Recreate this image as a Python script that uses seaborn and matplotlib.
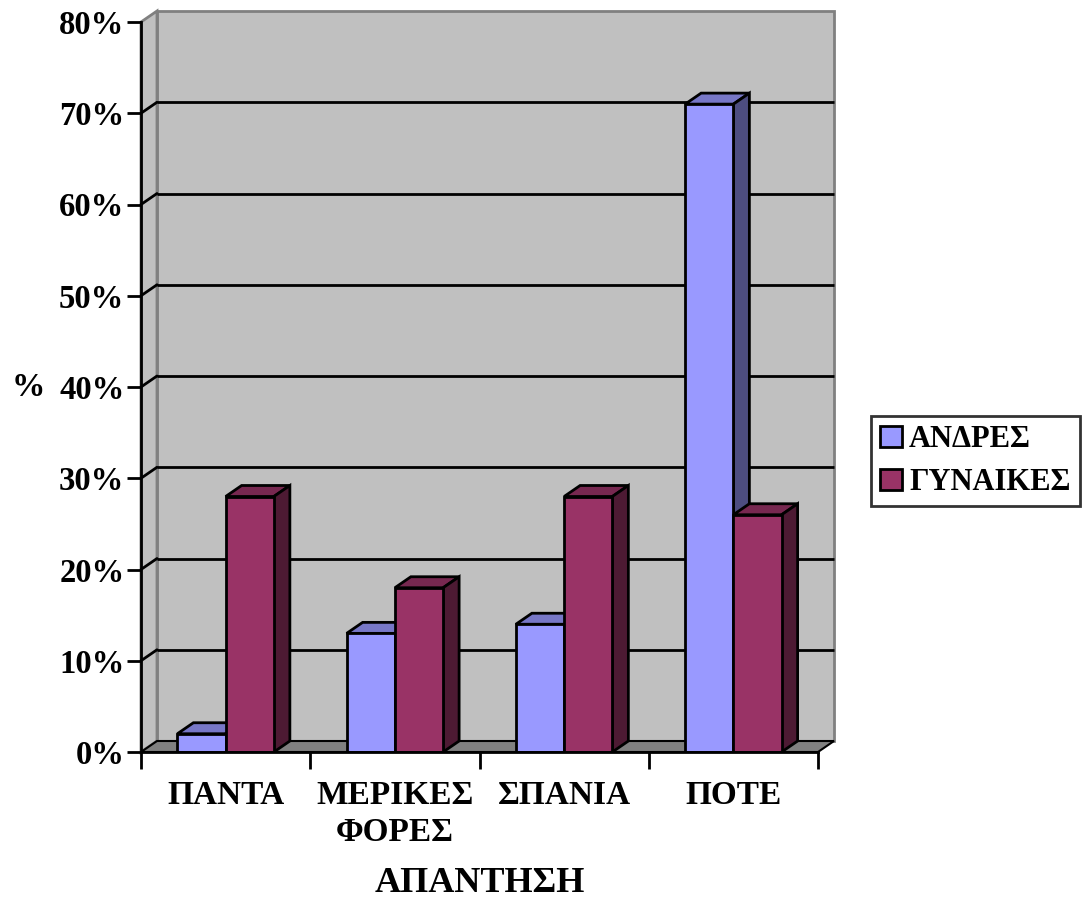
import matplotlib
matplotlib.use("Agg")
import matplotlib.pyplot as plt
from matplotlib.patches import Polygon, Patch, Rectangle
from matplotlib.ticker import PercentFormatter, FixedLocator
import seaborn as sns
import pandas as pd
import numpy as np

# Survey answers and shares (percent) by sex
answers = ["ΠΑΝΤΑ", "ΜΕΡΙΚΕΣ\nΦΟΡΕΣ", "ΣΠΑΝΙΑ", "ΠΟΤΕ"]
men = [2, 13, 14, 71]
women = [28, 18, 28, 26]
series_names = ["ΑΝΔΡΕΣ", "ΓΥΝΑΙΚΕΣ"]
yticks = [0, 10, 20, 30, 40, 50, 60, 70, 80]

base_colors = ["#9999FF", "#993366"]

df = pd.DataFrame({
    "answer": answers * 2,
    "pct": men + women,
    "sex": [series_names[0]] * len(answers) + [series_names[1]] * len(answers),
})

sns.set_style("white")
plt.rcParams["font.family"] = ["Liberation Serif"]
plt.rcParams["font.serif"] = ["Liberation Serif"]
plt.rcParams["font.weight"] = "bold"
plt.rcParams["text.color"] = "black"
plt.rcParams["xtick.color"] = "black"
plt.rcParams["ytick.color"] = "black"
plt.rcParams["axes.labelcolor"] = "black"

fig = plt.figure(figsize=(10.83, 8.98), dpi=100)
ax = fig.add_axes([141 / 1083, 146 / 898, 677 / 1083, 730 / 898])

sns.barplot(data=df, x="answer", y="pct", hue="sex", order=answers,
            hue_order=series_names, palette=base_colors, saturation=1,
            width=0.57, gap=0, edgecolor="black", linewidth=2, legend=False,
            ax=ax, zorder=3)

# bar rectangles produced by seaborn, ordered left to right
bars = sorted([p for p in ax.patches if isinstance(p, Rectangle) and p.get_height() > 0],
              key=lambda p: p.get_x())

x0, x1 = -0.5, len(answers) - 0.5
y0, y1 = 0, 80
ax.set_xlim(x0, x1)
ax.set_ylim(y0, y1)

# depth offset of the pseudo-3D box, converted from pixels into data units
ppx = ax.bbox.width / (x1 - x0)
ppy = ax.bbox.height / (y1 - y0)
DX = 16 / ppx
DY = 11 / ppy

wall = "#C0C0C0"
edge_gray = "#808080"

# back wall
ax.add_patch(Polygon([(x0 + DX, y0 + DY), (x1 + DX, y0 + DY), (x1 + DX, y1 + DY),
                      (x0 + DX, y1 + DY)], closed=True, facecolor=wall,
                     edgecolor=edge_gray, lw=2, zorder=0.5, clip_on=False))
# left wall
ax.add_patch(Polygon([(x0, y0), (x0, y1), (x0 + DX, y1 + DY), (x0 + DX, y0 + DY)],
                     closed=True, facecolor=wall, edgecolor=edge_gray, lw=2,
                     zorder=0.5, clip_on=False))
# gridlines on the back wall and the left wall
for v in yticks[1:-1]:
    ax.plot([x0 + DX, x1 + DX], [v + DY, v + DY], color="black", lw=2,
            zorder=0.6, clip_on=False, solid_capstyle="butt")
    ax.plot([x0, x0 + DX], [v, v + DY], color="black", lw=2,
            zorder=0.6, clip_on=False)
# floor
ax.add_patch(Polygon([(x0, y0), (x1, y0), (x1 + DX, y0 + DY), (x0 + DX, y0 + DY)],
                     closed=True, facecolor=edge_gray, edgecolor="black", lw=1.5,
                     zorder=0.7, clip_on=False))


def shade(hex_color, f):
    rgb = np.array(matplotlib.colors.to_rgb(hex_color))
    return tuple(rgb * f)


# top and side faces for each bar, layered left to right
for i, b in enumerate(bars):
    fc = matplotlib.colors.to_hex(b.get_facecolor())
    bx, bw, bh = b.get_x(), b.get_width(), b.get_height()
    z = 3 + i * 0.1
    b.set_zorder(z + 0.05)
    top = Polygon([(bx, bh), (bx + bw, bh), (bx + bw + DX, bh + DY), (bx + DX, bh + DY)],
                  closed=True, facecolor=shade(fc, 0.78), edgecolor="black", lw=2,
                  zorder=z, joinstyle="miter")
    side = Polygon([(bx + bw, 0), (bx + bw, bh), (bx + bw + DX, bh + DY), (bx + bw + DX, DY)],
                   closed=True, facecolor=shade(fc, 0.5), edgecolor="black", lw=2,
                   zorder=z, joinstyle="miter")
    ax.add_patch(top)
    ax.add_patch(side)

# axes lines and ticks
for s in ["top", "right"]:
    ax.spines[s].set_visible(False)
for s in ["left", "bottom"]:
    ax.spines[s].set_color("black")
    ax.spines[s].set_linewidth(2)
    ax.spines[s].set_zorder(10)

ax.set_yticks(yticks)
ax.yaxis.set_major_formatter(PercentFormatter(decimals=0))
ax.tick_params(axis="y", which="major", direction="out", length=10, width=2,
               color="black", labelsize=23.5, pad=2, left=True)

bounds = np.arange(len(answers) + 1) - 0.5
ax.xaxis.set_major_locator(FixedLocator(bounds))
ax.set_xticklabels([""] * len(bounds))
ax.xaxis.set_minor_locator(FixedLocator(np.arange(len(answers))))
ax.set_xticklabels(answers, minor=True)
ax.tick_params(axis="x", which="major", direction="out", length=12, width=2,
               color="black", bottom=True)
ax.tick_params(axis="x", which="minor", length=0, labelsize=24, pad=20)
for t in ax.get_xticklabels(minor=True):
    t.set_fontweight("bold")
    t.set_linespacing(1.25)
for t in ax.get_yticklabels():
    t.set_fontweight("bold")

ax.set_xlabel("ΑΠΑΝΤΗΣΗ", fontsize=26, fontweight="bold", va="baseline")
ax.xaxis.set_label_coords(0.5, -(892 - 752) / 730)
ax.set_ylabel("")
fig.text(28 / 1083, 1 - 388 / 898, "%", fontsize=24, fontweight="bold",
         ha="center", va="center")

handles = [Patch(facecolor=c, edgecolor="black", lw=2) for c in base_colors]
leg = fig.legend(handles, series_names, loc="upper left",
                 bbox_to_anchor=(871 / 1083, 1 - 416 / 898), frameon=True,
                 fancybox=False, edgecolor="black", fontsize=22,
                 handlelength=0.7, handleheight=0.7, handletextpad=0.25,
                 borderpad=0.3, labelspacing=0.45, borderaxespad=0)
leg.get_frame().set_linewidth(2)
for t in leg.get_texts():
    t.set_fontweight("bold")

fig.savefig("out.png", dpi=100)
